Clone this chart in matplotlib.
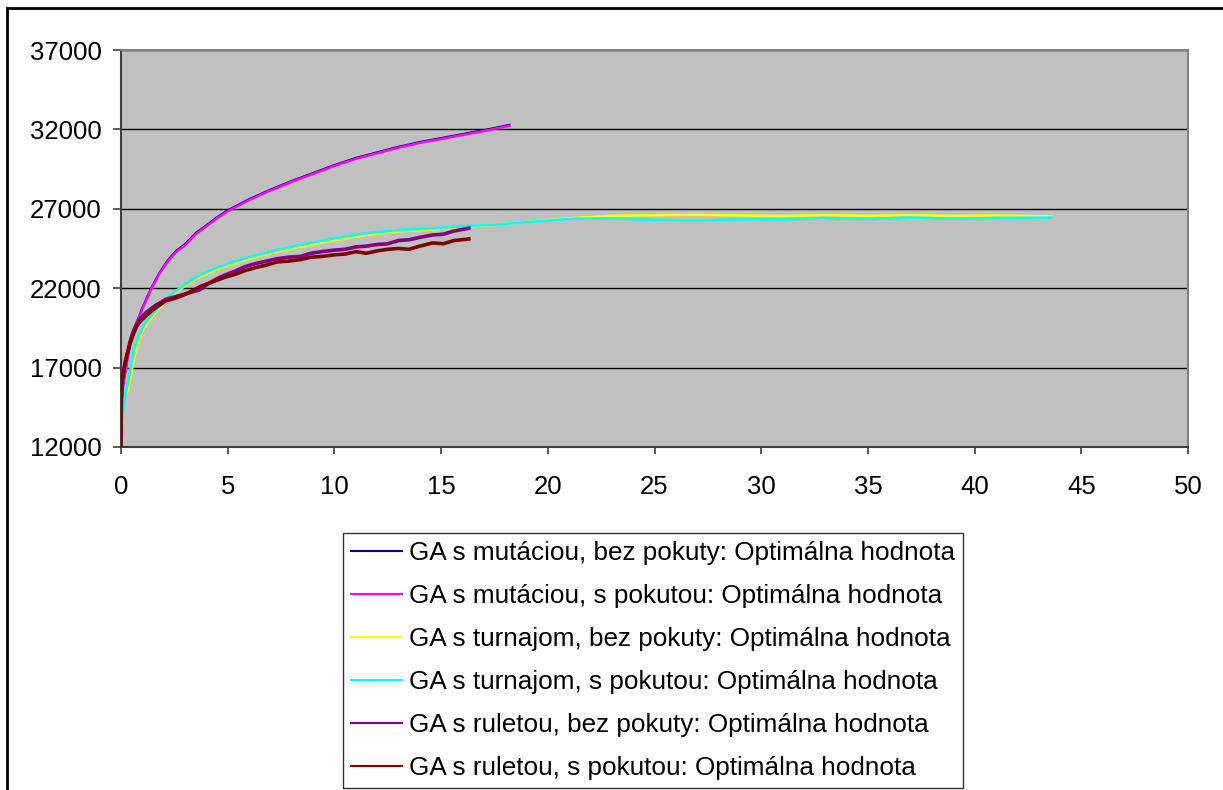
import matplotlib
matplotlib.use("Agg")
import matplotlib.pyplot as plt
from matplotlib.patches import Rectangle

plt.rcParams['font.family'] = ['Liberation Sans', 'DejaVu Sans']

# GA s mutaciou (bez pokuty / s pokutou)
mut_x = [0, 0.05, 0.1, 0.2, 0.3, 0.4, 0.6, 0.8, 1.0, 1.4, 1.8, 2.2, 2.6, 3.0, 3.5, 4.0, 4.5,
         5.0, 5.5, 6.0, 7.0, 8.0, 9.0, 10.0, 11.0, 12.0, 13.0, 14.0, 15.0, 16.0, 17.0, 18.2]
mut_bez = [14350, 15250, 15950, 16750, 17550, 18350, 19450, 20060, 20760, 21960, 22960, 23770,
           24370, 24770, 25470, 25960, 26460, 26910, 27250, 27600, 28200, 28750, 29250, 29750,
           30200, 30550, 30900, 31200, 31450, 31700, 31950, 32280]
mut_s = [14300, 15200, 15900, 16700, 17500, 18300, 19400, 20000, 20700, 21900, 22900, 23700,
         24300, 24700, 25400, 25900, 26400, 26850, 27200, 27550, 28150, 28700, 29200, 29700,
         30150, 30500, 30850, 31150, 31400, 31650, 31900, 32230]

# GA s turnajom
tur_x = [0, 0.05, 0.1, 0.2, 0.35, 0.6, 0.8, 1.05, 1.3, 1.7, 2.3, 3.0, 3.7, 4.5, 5.3, 6.0, 7.0,
         8.4, 10.0, 11.5, 13.0, 14.6, 16.2, 17.5, 19.3, 21.2, 23.0, 25.0, 27.0, 29.0, 31.0,
         33.0, 35.0, 37.0, 39.0, 41.0, 43.6]
tur_bez = [13000, 13800, 14800, 15300, 15600, 17600, 18600, 19400, 19900, 20600, 21450, 22150,
           22720, 23180, 23560, 23850, 24200, 24600, 25020, 25350, 25560, 25700, 25850, 26000,
           26200, 26420, 26550, 26600, 26620, 26580, 26550, 26600, 26560, 26600, 26550, 26580,
           26520]
tur_s = [12300, 12700, 14300, 15300, 16200, 18100, 18900, 19600, 20100, 20700, 21550, 22250,
         22830, 23300, 23670, 23950, 24300, 24720, 25140, 25460, 25660, 25770, 25920, 26000,
         26190, 26380, 26400, 26300, 26250, 26350, 26330, 26420, 26360, 26450, 26380, 26420,
         26450]

# GA s ruletou
rul_x = [0, 0.02, 0.1, 0.2, 0.3, 0.42, 0.55, 0.73, 0.9, 1.2, 1.6, 2.1, 2.5, 2.9, 3.3, 3.7, 4.1,
         4.5, 4.9, 5.3, 5.8, 6.3, 6.8, 7.3, 7.8, 8.4, 8.9, 9.4, 10.0, 10.5, 11.0, 11.5, 12.0,
         12.5, 13.0, 13.5, 14.0, 14.6, 15.1, 15.6, 16.3]
rul_bez = [12500, 15000, 16600, 17400, 17900, 18600, 19200, 19700, 20100, 20500, 20900, 21300,
           21450, 21600, 21750, 21900, 22300, 22600, 22850, 23050, 23350, 23550, 23700, 23850,
           23950, 24000, 24200, 24300, 24400, 24450, 24600, 24650, 24750, 24800, 25000, 25050,
           25200, 25350, 25400, 25600, 25780]
rul_s = [12000, 16000, 16500, 17300, 17900, 18500, 19000, 19600, 19900, 20300, 20750, 21200,
         21350, 21550, 21800, 22100, 22300, 22500, 22700, 22850, 23100, 23300, 23450, 23650,
         23700, 23800, 23950, 24000, 24100, 24150, 24300, 24200, 24350, 24450, 24500, 24450,
         24650, 24850, 24800, 25000, 25100]

popisy = [
    "GA s mutáciou, bez pokuty: Optimálna hodnota",
    "GA s mutáciou, s pokutou: Optimálna hodnota",
    "GA s turnajom, bez pokuty: Optimálna hodnota",
    "GA s turnajom, s pokutou: Optimálna hodnota",
    "GA s ruletou, bez pokuty: Optimálna hodnota",
    "GA s ruletou, s pokutou: Optimálna hodnota",
]
farby = ["#000080", "#FF00FF", "#FFFF00", "#00FFFF", "#800080", "#800000"]

fig = plt.figure(figsize=(12.23, 7.90), dpi=100)

# ramik okolo celeho grafu
fig.patches.append(Rectangle((7 / 1223, -0.05), 1.2, 1 - 8 / 790 + 0.05,
                             transform=fig.transFigure, fill=False,
                             edgecolor="black", linewidth=2.0))

ax = fig.add_axes([121 / 1223, 1 - 447 / 790, (1188 - 121) / 1223, (447 - 50) / 790])
ax.set_facecolor("#C0C0C0")

series = [(mut_x, mut_bez, 1.6), (mut_x, mut_s, 1.8), (tur_x, tur_bez, 1.8),
          (tur_x, tur_s, 1.8), (rul_x, rul_bez, 2.6), (rul_x, rul_s, 2.6)]
for (xs, ys, lw), farba, popis in zip(series, farby, popisy):
    ax.plot(xs, ys, color=farba, linewidth=lw, label=popis, zorder=3)

ax.set_xlim(0, 50)
ax.set_ylim(12000, 37000)
ax.set_xticks(range(0, 51, 5))
ax.set_yticks(range(12000, 37001, 5000))
ax.yaxis.grid(True, color="black", linewidth=1.0)
ax.set_axisbelow(True)

for s in ["top", "right"]:
    ax.spines[s].set_color("#808080")
    ax.spines[s].set_linewidth(1.5)
for s in ["left", "bottom"]:
    ax.spines[s].set_color("#404040")
    ax.spines[s].set_linewidth(1.5)

ax.tick_params(axis="both", direction="out", colors="#404040", labelcolor="black",
               labelsize=18.5, width=1.2)
ax.tick_params(axis="y", length=6, pad=8)
ax.tick_params(axis="x", length=5, pad=15)

leg = fig.legend(handles=[plt.Line2D([], [], color=f, linewidth=1.5) for f in farby],
                 labels=popisy, loc="upper left",
                 bbox_to_anchor=(343 / 1223, 1 - 533 / 790),
                 fontsize=18.8, frameon=True, fancybox=False, handlelength=1.97,
                 handletextpad=0.25, labelspacing=0.73, borderpad=0.3,
                 borderaxespad=0)
leg.get_frame().set_edgecolor("black")
leg.get_frame().set_linewidth(1.0)

fig.savefig("out.png", dpi=100)
